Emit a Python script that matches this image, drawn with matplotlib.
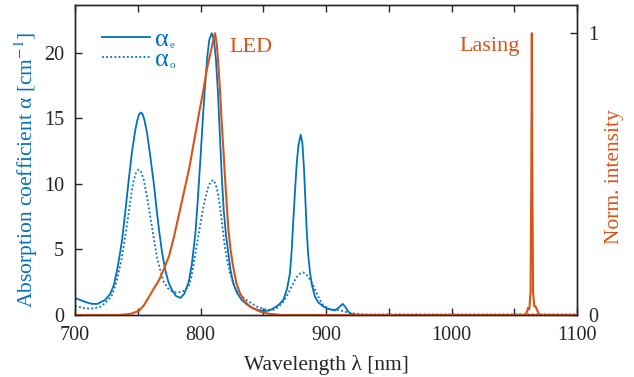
import matplotlib
matplotlib.use("Agg")
import matplotlib.pyplot as plt

plt.rcParams['font.family'] = ['Liberation Serif', 'DejaVu Serif']
plt.rcParams['mathtext.fontset'] = 'stix'

BLUE = '#0072BD'
ORANGE = '#D95319'
DARK = '#262626'

# alpha_e (solid)
wl_e = [700, 708, 713.5, 718, 724, 728, 731, 733.5, 735.5, 737.5, 740, 742.8, 745.5, 748,
        749.5, 751, 752.6, 754, 755.5, 757.4, 760, 762.7, 765, 767.2, 769.5, 772, 774.5,
        777.3, 780.5, 784, 787, 790.6, 793, 795.9, 798, 800, 802, 803.6, 805.3, 807, 809,
        810.7, 812.3, 813.9, 815.5, 817, 818.5, 820.3, 822.2, 824, 826.1, 829, 832.8, 837,
        842, 846, 851.4, 855, 858, 862, 866, 869, 871.3, 872.7, 874, 875.4, 876.7, 878,
        879.8, 881.2, 882.5, 883.6, 884.6, 885.8, 887.3, 889, 891.2, 894, 897.8, 902, 907.2,
        910, 913.3, 915.5, 917.8, 920, 923.1, 940, 1100]
alpha_e = [1.3, 1.0, 0.85, 0.85, 1.15, 1.6, 2.3, 3.4, 4.5, 5.7, 7.8, 10.3, 12.5, 14.1,
           14.8, 15.3, 15.45, 15.3, 14.8, 13.9, 12.1, 10.1, 8.1, 6.3, 4.7, 3.4, 2.5,
           1.9, 1.45, 1.3, 1.6, 2.5, 3.8, 6.2, 9.0, 12.0, 15.2, 17.4, 19.6, 21.0, 21.5,
           21.0, 19.5, 17.0, 13.6, 10.5, 8.0, 6.1, 4.7, 3.4, 2.4, 1.7, 1.15, 0.8,
           0.5, 0.38, 0.3, 0.35, 0.5, 0.75, 1.15, 2.0, 3.2, 5.0, 7.3, 9.6, 11.6, 12.9,
           13.75, 13.1, 11.1, 8.7, 6.5, 4.6, 3.2, 2.2, 1.4, 0.95, 0.65, 0.45, 0.35,
           0.55, 0.85, 0.6, 0.25, 0.1, 0.02, 0.0, 0.0]

# alpha_o (dotted)
wl_o = [700, 708, 715, 721, 729, 733, 737, 740, 742.8, 745, 746.8, 748.8, 750.8, 752.8,
        754.8, 757.4, 760, 762.7, 765.3, 768, 770.6, 774, 777.3, 781.3, 786, 790.6, 793,
        795, 797.5, 800, 802, 804, 806, 808, 810.2, 812, 813.8, 815.5, 817.5, 819.4, 821.4,
        823.4, 826, 828.7, 832.5, 836.7, 840.5, 844.7, 852.7, 858, 862, 866, 868.7, 871.3,
        874, 876.7, 879.3, 881.9, 884.6, 887.3, 890, 892.6, 895.2, 897.8, 903.2, 911.2,
        919.1, 930, 1100]
alpha_o = [0.7, 0.5, 0.5, 0.65, 1.4, 2.5, 4.2, 6.0, 7.8, 9.3, 10.3, 10.9, 11.1, 10.9,
           10.3, 9.0, 7.5, 5.9, 4.45, 3.4, 2.55, 2.05, 1.8, 1.7, 1.8, 2.15, 3.0,
           4.2, 5.6, 7.0, 8.1, 9.0, 9.7, 10.15, 10.3, 10.0, 9.3, 8.3, 6.7, 5.2, 4.1,
           3.2, 2.5, 1.9, 1.45, 1.15, 0.9, 0.65, 0.4, 0.4, 0.6, 1.0, 1.45, 1.9,
           2.45, 2.9, 3.15, 3.25, 3.05, 2.7, 2.2, 1.65, 1.15, 0.75, 0.45, 0.35,
           0.15, 0.05, 0.05]

# LED normalized intensity
wl_led = [700, 735, 740, 745, 751, 755, 759, 763, 767, 771, 775, 779, 783, 787, 791, 795,
          799, 802, 805, 807, 809, 810.5, 811.6, 813, 814.2, 815.5, 816.8, 818.2, 819.5,
          820.8, 822.1, 824, 826.1, 828.5, 831.5, 835, 839.4, 847.4, 855, 865, 1100]
led = [0, 0, 0.002, 0.005, 0.015, 0.035, 0.065, 0.095, 0.124, 0.165, 0.21, 0.28, 0.36,
       0.44, 0.52, 0.62, 0.72, 0.79, 0.87, 0.91, 0.95, 0.985, 1.0, 0.96, 0.89, 0.8, 0.69,
       0.59, 0.49, 0.40, 0.31, 0.23, 0.17, 0.115, 0.077, 0.05, 0.03, 0.012, 0.004, 0, 0]

# Lasing normalized intensity
wl_las = [1040, 1059, 1060, 1061, 1062, 1063, 1063.6, 1064, 1064.4, 1065, 1066, 1067, 1068, 1069, 1070, 1100]
las = [0, 0, 0.01, 0.025, 0.02, 0.08, 0.5, 1.0, 0.5, 0.08, 0.03, 0.03, 0.02, 0.01, 0, 0]

x_ticks = [700, 800, 900, 1000, 1100]
y_ticks = [0, 5, 10, 15, 20]
legend_labels = ['α', 'α']
legend_subs = ['e', 'o']

fig = plt.figure(figsize=(6.34, 3.77), dpi=100)
ax = fig.add_axes([75/634, 62/377, 502/634, 310/377])
ax2 = ax.twinx()

l1, = ax.plot(wl_e, alpha_e, color=BLUE, lw=1.3)
l2, = ax.plot(wl_o, alpha_o, color=BLUE, lw=1.3, ls=(0, (1, 1.3)))
ax2.plot(wl_led, led, color=ORANGE, lw=1.5)
ax2.plot(wl_las, las, color=ORANGE, lw=1.5)

ax.set_xlim(700, 1100)
ax.set_ylim(0, 23.65)
ax2.set_ylim(0, 1.1)
ax.set_xticks(range(700, 1101, 50))
ax.set_xticklabels([str(v) if v in x_ticks else '' for v in range(700, 1101, 50)])
ax.set_yticks(y_ticks)
ax2.set_yticks([0, 1])

for a in (ax, ax2):
    for s in a.spines.values():
        s.set_color(DARK)
        s.set_linewidth(1.0)
ax.tick_params(direction='in', length=5, width=1, labelsize=14.5, colors=DARK, top=True)
ax.tick_params(axis='x', pad=8)
ax.tick_params(axis='y', pad=8)
ax2.tick_params(direction='in', length=5, width=1, labelsize=14.5, colors=DARK, pad=8)

ax.set_xlabel('Wavelength λ [nm]', fontsize=15.5, color=DARK, labelpad=7)
ax.set_ylabel('Absorption coefficient α [cm$^{-1}$]', fontsize=15.5, color=BLUE)
ax.yaxis.set_label_coords(-0.07, 0.468)
ax2.set_ylabel('Norm. intensity', fontsize=15.5, color=ORANGE)
ax2.yaxis.set_label_coords(1.056, 0.445)

leg = ax.legend([l1, l2], legend_labels, loc='upper left', frameon=False, fontsize=19,
                handlelength=1.82, handletextpad=0.2, labelspacing=-0.14,
                borderaxespad=0.0, bbox_to_anchor=(0.033, 0.96), labelcolor=BLUE)

ax2.text(823, 0.935, 'LED', color=ORANGE, fontsize=16, ha='left', va='baseline')
ax2.text(1054.5, 0.935, 'Lasing', color=ORANGE, fontsize=16, ha='right', va='baseline')

fig.canvas.draw()
inv = fig.transFigure.inverted()
for t, sub in zip(leg.get_texts(), legend_subs):
    bb = t.get_window_extent()
    x, y = inv.transform((bb.x1 + 0.5, bb.y0 + 3))
    fig.text(x, y, sub, color=BLUE, fontsize=8, ha='left', va='baseline')

fig.savefig('out.png', dpi=100)
